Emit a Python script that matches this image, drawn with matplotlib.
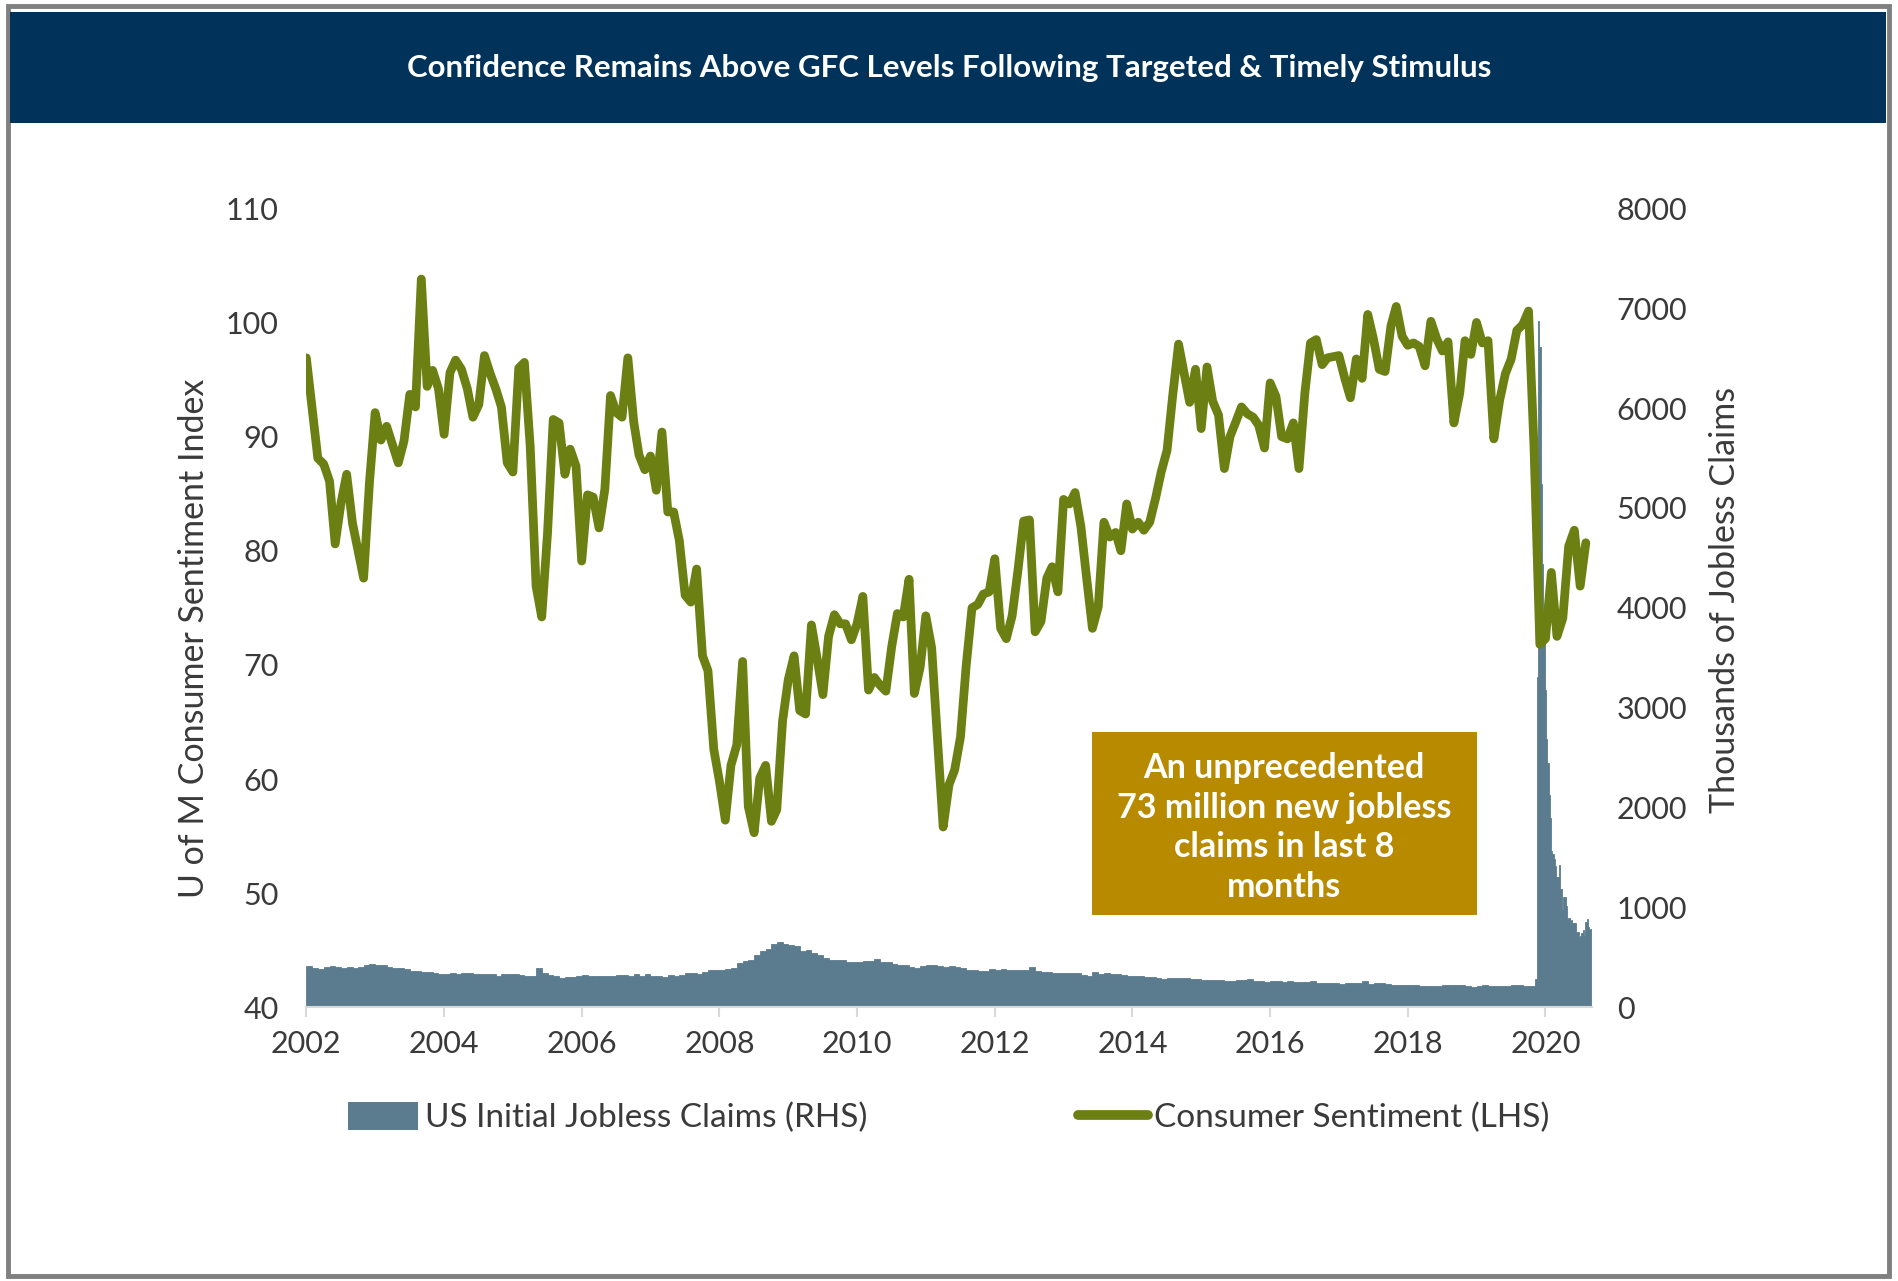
import numpy as np
import pandas as pd
import matplotlib
matplotlib.use("Agg")
import matplotlib.pyplot as plt
from matplotlib.patches import Rectangle
from matplotlib.lines import Line2D

plt.rcParams['font.family'] = ['Lato', 'DejaVu Sans']

# U of M consumer sentiment, monthly May 2002 - Dec 2020
sentiment = [
    96.9, 92.4, 88.1, 87.6, 86.1, 80.6, 84.2, 86.7,
    82.4, 79.9, 77.6, 86.0, 92.1, 89.7, 90.9, 89.3, 87.7, 89.6, 93.7, 92.6,
    103.8, 94.4, 95.8, 94.2, 90.2, 95.6, 96.7, 95.9, 94.2, 91.7, 92.8, 97.1,
    95.5, 94.1, 92.6, 87.7, 86.9, 96.0, 96.5, 89.1, 76.9, 74.2, 81.6, 91.5,
    91.2, 86.7, 88.9, 87.4, 79.1, 84.9, 84.7, 82.0, 85.4, 93.6, 92.1, 91.7,
    96.9, 91.3, 88.4, 87.1, 88.3, 85.3, 90.4, 83.4, 83.4, 80.9, 76.1, 75.5,
    78.4, 70.8, 69.5, 62.6, 59.8, 56.4, 61.2, 63.0, 70.3, 57.6, 55.3, 60.1,
    61.2, 56.3, 57.3, 65.1, 68.7, 70.8, 66.0, 65.7, 73.5, 70.6, 67.4, 72.5,
    74.4, 73.6, 73.6, 72.2, 73.6, 76.0, 67.8, 68.9, 68.2, 67.7, 71.6, 74.5,
    74.2, 77.5, 67.5, 69.8, 74.3, 71.5, 63.7, 55.8, 59.5, 60.8, 63.7, 69.9,
    75.0, 75.3, 76.2, 76.4, 79.3, 73.2, 72.3, 74.3, 78.3, 82.6, 82.7, 72.9,
    73.8, 77.6, 78.6, 76.4, 84.5, 84.1, 85.1, 82.1, 77.5, 73.2, 75.1, 82.5,
    81.2, 81.6, 80.0, 84.1, 81.9, 82.5, 81.8, 82.5, 84.6, 86.9, 88.8, 93.6,
    98.1, 95.4, 93.0, 95.9, 90.7, 96.1, 93.1, 91.9, 87.2, 90.0, 91.3, 92.6,
    92.0, 91.7, 91.0, 89.0, 94.7, 93.5, 90.0, 89.8, 91.2, 87.2, 93.8, 98.2,
    98.5, 96.3, 96.9, 97.0, 97.1, 95.1, 93.4, 96.8, 95.1, 100.7, 98.5, 95.9,
    95.7, 99.7, 101.4, 98.8, 98.0, 98.2, 97.9, 96.2, 100.1, 98.6, 97.5, 98.3,
    91.2, 93.8, 98.4, 97.2, 100.0, 98.2, 98.4, 89.8, 93.2, 95.5, 96.8, 99.3,
    99.8, 101.0, 89.1, 71.8, 72.3, 78.1, 72.5, 74.1, 80.4, 81.8, 76.9, 80.7,
]
sentiment_dates = pd.date_range("2002-05-01", periods=len(sentiment), freq="MS")

# initial jobless claims (thousands), monthly May 2002 - Feb 2020
claims_monthly = [
    415, 395, 385, 400, 415, 405, 390, 405,
    395, 405, 420, 430, 425, 420, 405, 395, 395, 380, 360, 360,
    350, 350, 340, 335, 335, 340, 335, 340, 340, 335, 335, 335,
    330, 315, 330, 330, 330, 325, 315, 315, 390, 345, 320, 310,
    290, 300, 300, 310, 320, 310, 315, 315, 310, 310, 320, 320,
    315, 330, 315, 330, 310, 315, 305, 320, 315, 325, 340, 340,
    330, 355, 370, 370, 370, 385, 395, 440, 465, 475, 520, 560,
    580, 630, 655, 635, 620, 610, 560, 570, 545, 525, 490, 470,
    470, 470, 455, 455, 455, 460, 460, 480, 455, 450, 430, 420,
    420, 405, 395, 415, 425, 420, 410, 405, 410, 400, 395, 375,
    375, 360, 365, 380, 375, 385, 370, 370, 370, 375, 400, 360,
    350, 350, 345, 345, 345, 345, 340, 325, 310, 350, 335, 345,
    335, 335, 320, 310, 310, 310, 300, 300, 295, 285, 290, 290,
    295, 295, 285, 280, 275, 275, 270, 275, 265, 260, 270, 270,
    280, 265, 260, 255, 265, 265, 255, 260, 255, 255, 250, 260,
    245, 240, 245, 240, 235, 240, 240, 240, 260, 235, 240, 240,
    230, 220, 225, 225, 220, 220, 215, 210, 210, 215, 220, 220,
    220, 225, 215, 205, 215, 220, 210, 215, 210, 215, 220, 225,
    210, 210,
]
claims_month_start = pd.date_range("2002-05-01", periods=len(claims_monthly), freq="MS")

# weekly claims (thousands), weeks ending 7 Mar 2020 - 26 Dec 2020
claims_weekly = [
    211, 282, 3307, 6867, 6615, 5237, 4442, 3867, 3176, 2687, 2446, 2123,
    1897, 1566, 1540, 1482, 1413, 1310, 1307, 1422, 1186, 971, 1106, 1104,
    1011, 881, 893, 866, 873, 849, 845, 842, 751, 751, 709, 711,
    748, 778, 712, 853, 885, 803, 787,
]
claims_week_end = pd.date_range("2020-03-07", periods=len(claims_weekly), freq="7D")

left_ticks = [40, 50, 60, 70, 80, 90, 100, 110]
right_ticks = [0, 1000, 2000, 3000, 4000, 5000, 6000, 7000, 8000]
year_labels = ["2002", "2004", "2006", "2008", "2010", "2012", "2014", "2016", "2018", "2020"]

title = "Confidence Remains Above GFC Levels Following Targeted & Timely Stimulus"
note = "An unprecedented\n73 million new jobless\nclaims in last 8\nmonths"

line_col = "#6B7F12"
bar_col = "#5B7C8F"
navy = "#00325A"
gold = "#B78A00"
txt = "#3A3A3A"

fig = plt.figure(figsize=(18.98, 12.81), dpi=100)

# frame + title bar
fig.patches.append(Rectangle((0.004, 0.004), 0.991, 0.991, transform=fig.transFigure,
                             fill=False, edgecolor="#808080", linewidth=3.5, zorder=0))
fig.patches.append(Rectangle((0.0055, 0.9036), 0.988, 0.087, transform=fig.transFigure,
                             facecolor=navy, edgecolor="none", zorder=1))
fig.text(0.5, 0.947, title, color="white", fontsize=22.5, fontweight="bold",
         ha="center", va="center")

ax = fig.add_axes([0.1614, 0.2136, 0.6772, 0.6238])
ax2 = ax.twinx()
ax.set_zorder(ax2.get_zorder() + 1)
ax.patch.set_visible(False)

# claims bars on the right axis
month_widths = [pd.Timestamp(d).days_in_month for d in claims_month_start]
ax2.bar(claims_month_start, claims_monthly, width=month_widths, align="edge",
        color=bar_col, edgecolor=bar_col, linewidth=0.6)
ax2.bar(claims_week_end - pd.Timedelta(days=6), claims_weekly, width=7, align="edge",
        color=bar_col, edgecolor=bar_col, linewidth=0.6)

# sentiment line on the left axis
ax.plot(sentiment_dates, sentiment, color=line_col, linewidth=6.3, solid_joinstyle="round",
        solid_capstyle="round")

ax.set_ylim(40, 110)
ax2.set_ylim(0, 8000)
ax.set_xlim(pd.Timestamp("2002-05-01"), pd.Timestamp("2021-01-01"))
ax.set_yticks(left_ticks)
ax2.set_yticks(right_ticks)
tick_pos = pd.date_range("2002-05-01", periods=len(year_labels), freq="24MS")
ax.set_xticks(tick_pos)
ax.set_xticklabels(year_labels)

for a in (ax, ax2):
    for s in ("top", "left", "right"):
        a.spines[s].set_visible(False)
    a.spines["bottom"].set_color("#D9D9D9")
    a.spines["bottom"].set_linewidth(1.5)
ax2.spines["bottom"].set_visible(False)

ax.tick_params(axis="y", length=0, pad=20, labelsize=22, labelcolor=txt)
ax2.tick_params(axis="y", length=0, pad=18, labelsize=22, labelcolor=txt)
ax.tick_params(axis="x", length=7, width=1.5, color="#D9D9D9", pad=9,
               labelsize=22, labelcolor=txt)

fig.text(0.102, 0.502, "U of M Consumer Sentiment Index", rotation=90,
         fontsize=24.5, color=txt, ha="center", va="center")
fig.text(0.9088, 0.532, "Thousands of Jobless Claims", rotation=90,
         fontsize=24.5, color=txt, ha="center", va="center")

# annotation box
ax.add_patch(Rectangle((0.611, 0.115), 0.2995, 0.23, transform=ax.transAxes,
                       facecolor=gold, edgecolor="none", zorder=5))
ax.text(0.7608, 0.225, note, transform=ax.transAxes, color="white", fontsize=24.5,
        fontweight="bold", ha="center", va="center", linespacing=1.3, zorder=6)

handles = [Rectangle((0, 0), 1, 1, facecolor=bar_col, edgecolor="none"),
           Line2D([0], [0], color=line_col, linewidth=7, solid_capstyle="round")]
fig.legend(handles, ["US Initial Jobless Claims (RHS)", "Consumer Sentiment (LHS)"],
           loc="center", bbox_to_anchor=(0.5, 0.1275), ncol=2, frameon=False,
           fontsize=24, labelcolor=txt, handlelength=2.1, handleheight=0.9,
           handletextpad=0.2, columnspacing=6.3)

fig.savefig("out.png", dpi=100)
